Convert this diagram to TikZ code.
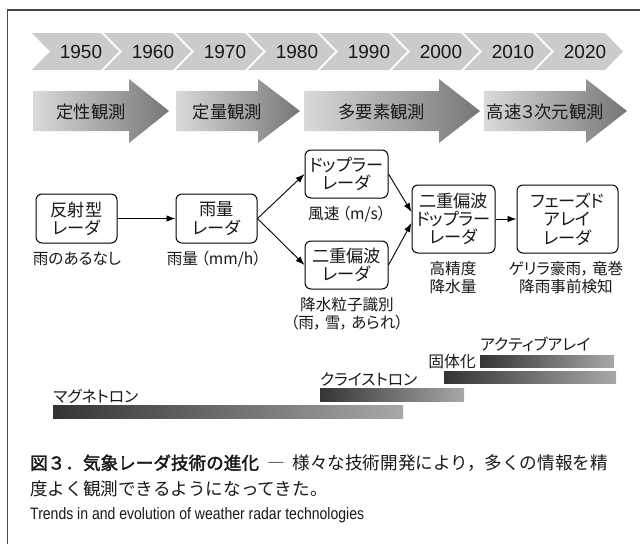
\documentclass[tikz,border=0pt]{standalone}
\usepackage{fontspec}
\setmainfont{Liberation Sans}
\newfontfamily\cjk{Noto Sans CJK JP}[RawFeature={+palt}]
\newfontfamily\cjkplain{Noto Sans CJK JP}
\newfontfamily\cjkbold{Noto Sans CJK JP}[FakeBold=2]
\newfontfamily\narrow{Liberation Sans}[FakeStretch=0.85]
\usetikzlibrary{arrows.meta}
\definecolor{chevgray}{RGB}{203,203,203}
\definecolor{phaseL}{RGB}{218,218,218}
\definecolor{phaseR}{RGB}{118,118,118}
\definecolor{barL}{RGB}{52,52,52}
\definecolor{barR}{RGB}{168,168,168}
\definecolor{framecol}{RGB}{70,70,70}
\definecolor{txt}{RGB}{25,25,25}
\tikzset{
  chev/.style={fill=chevgray},
  yeartext/.style={font=\fontsize{19}{20}\selectfont, text=txt, inner sep=0pt},
  phasetext/.style={font=\cjk\fontsize{17.3}{20}\selectfont, text=txt, inner sep=0pt},
  radarbox/.style={draw=black, line width=1pt, rounded corners=6pt, align=center,
    font=\cjk\fontsize{17.2}{18.3}\selectfont, inner sep=0pt, text=txt},
  lbl/.style={font=\cjk\fontsize{15.6}{18}\selectfont, align=center, inner sep=0pt, text=txt},
  barlbl/.style={font=\cjk\fontsize{15.8}{18}\selectfont, inner sep=0pt, text=txt},
  flow/.style={-{Latex[length=9pt,width=6.5pt]}, line width=0.9pt, black},
  bar/.style={left color=barL, right color=barR},
  captxt/.style={anchor=west, inner sep=0pt, text=txt}
}
\begin{document}
\begin{tikzpicture}[x=1pt,y=-1pt]
\useasboundingbox (0,0) rectangle (640,544);
\fill[white] (0,0) rectangle (640,544);
% frame
\draw[line width=1.3pt, framecol] (640,10) -- (7.5,10) -- (7.5,544);
% chevrons
\foreach \i/\yr in {0/1950,1/1960,2/1970,3/1980,4/1990,5/2000,6/2010,7/2020}{
  \pgfmathsetmacro\L{32+72*\i}
  \fill[chev] (\L,33) -- (\L+69,33) -- (\L+87,51.5) -- (\L+69,70) -- (\L,70) -- (\L+18,51.5) -- cycle;
  \node[yeartext] (y\yr) at (\L+49,52) {\yr};
}
% phase arrows
\foreach \a/\h/\t/\n/\lab in {33/129/169/p1/定性観測, 176/258/300/p2/定量観測, 304/439/480/p3/多要素観測, 484/586/627/p4/高速３次元観測}{
  \shade[left color=phaseL, right color=phaseR] (\a,91) -- (\h,91) -- (\h,79) -- (\t,111) -- (\h,143) -- (\h,131) -- (\a,131) -- cycle;
  \node[phasetext] (\n) at ({(2*\a+\h+\t)/4},111.5) {\lab};
}
% radar boxes
\node[radarbox, minimum width=81pt, minimum height=49pt] (b1) at (76.5,218.5) {反射型\\レーダ};
\node[radarbox, minimum width=81pt, minimum height=49pt] (b2) at (216.5,218.5) {雨量\\レーダ};
\node[radarbox, minimum width=83pt, minimum height=48pt] (b3) at (346.5,174) {ドップラー\\レーダ};
\node[radarbox, minimum width=83pt, minimum height=48pt] (b4) at (346.5,265) {二重偏波\\レーダ};
\node[radarbox, minimum width=83pt, minimum height=68pt] (b5) at (453.5,219) {二重偏波\\ドップラー\\レーダ};
\node[radarbox, minimum width=101pt, minimum height=68pt] (b6) at (567.5,219) {フェーズド\\アレイ\\レーダ};
% labels
\node[lbl] (l1) at (77,259) {雨のあるなし};
\node[lbl] (l2) at (214,259) {雨量\hspace{3pt}（mm/h）};
\node[lbl] (l3) at (347,214) {風速\hspace{3pt}（m/s）};
\node[lbl] (l4) at (347,314) {降水粒子識別\\（雨，\hspace{3pt}雪，\hspace{3pt}あられ）};
\node[lbl] (l5) at (453,278) {高精度\\降水量};
\node[lbl] (l6) at (566,278) {ゲリラ豪雨，\hspace{3pt}竜巻\\降雨事前検知};
% connectors
\draw[flow] (b1.east) -- (b2.west);
\draw[flow] (b2.east) -- (b3.west);
\draw[flow] (b2.east) -- (b4.west);
\draw[flow] (b3.east) -- ([yshift=7pt]b5.west);
\draw[flow] (b4.east) -- ([yshift=-4pt]b5.west);
\draw[flow] (b5.east) -- (b6.west);
% technology bars
\shade[bar] (480,355) rectangle (614,367);
\shade[bar] (444,371) rectangle (616,383);
\shade[bar] (320,388) rectangle (464,401);
\shade[bar] (53,405) rectangle (403,418);
\node[barlbl, anchor=west] (t1) at (480,344) {アクティブアレイ};
\node[barlbl, anchor=east] (t2) at (476,362) {固体化};
\node[barlbl, anchor=west] (t3) at (320,379) {クライストロン};
\node[barlbl, anchor=west] (t4) at (53,396) {マグネトロン};
% caption
\node[captxt, font=\fontsize{17.6}{20}\selectfont] (c1) at (30,463)
  {{\cjkbold 図３．気象レーダ技術の進化}\hspace{8pt}{\cjkplain ―\hspace{8pt}様々な技術開発により，多くの情報を精}};
\node[captxt, font=\cjkplain\fontsize{17.6}{20}\selectfont] (c2) at (30,489)
  {度よく観測できるようになってきた。};
\node[captxt, font=\narrow\fontsize{16.5}{18}\selectfont] (c3) at (30,515)
  {Trends in and evolution of weather radar technologies};
\end{tikzpicture}
\end{document}
